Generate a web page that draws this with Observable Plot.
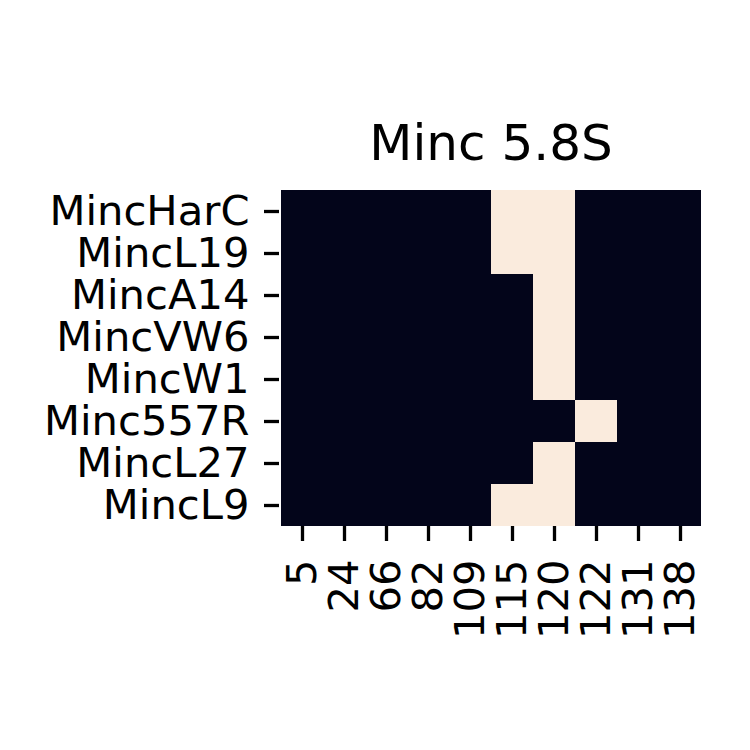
<!DOCTYPE html>
<html>
<head>
<meta charset="utf-8">
<script src="https://cdn.jsdelivr.net/npm/d3@7"></script>
<script src="https://cdn.jsdelivr.net/npm/@observablehq/plot@0.6"></script>
<style>
  html, body { margin: 0; padding: 0; background: #fff; }
</style>
</head>
<body>
<div id="chart"></div>
<script>
const title = "Minc 5.8S";
const rows = ["MincHarC", "MincL19", "MincA14", "MincVW6", "MincW1", "Minc557R", "MincL27", "MincL9"];
const cols = ["5", "24", "66", "82", "109", "115", "120", "122", "131", "138"];
const MincHarC = [0, 0, 0, 0, 0, 1, 1, 0, 0, 0];
const MincL19  = [0, 0, 0, 0, 0, 1, 1, 0, 0, 0];
const MincA14  = [0, 0, 0, 0, 0, 0, 1, 0, 0, 0];
const MincVW6  = [0, 0, 0, 0, 0, 0, 1, 0, 0, 0];
const MincW1   = [0, 0, 0, 0, 0, 0, 1, 0, 0, 0];
const Minc557R = [0, 0, 0, 0, 0, 0, 0, 1, 0, 0];
const MincL27  = [0, 0, 0, 0, 0, 0, 1, 0, 0, 0];
const MincL9   = [0, 0, 0, 0, 0, 1, 1, 0, 0, 0];
const values = [MincHarC, MincL19, MincA14, MincVW6, MincW1, Minc557R, MincL27, MincL9];
const colorRange = ["#03051a", "#faebdd"];

const data = [];
rows.forEach((r, i) => cols.forEach((c, j) => data.push({row: r, col: c, v: values[i][j]})));

const fs = 41.7;
const chart = Plot.plot({
  width: 750,
  height: 750,
  marginLeft: 279,
  marginRight: 48,
  marginTop: 189,
  marginBottom: 224,
  style: {fontFamily: "DejaVu Sans", fontSize: fs + "px", color: "#000", background: "#fff"},
  x: {domain: cols, padding: 0},
  y: {domain: rows, padding: 0},
  color: {type: "ordinal", domain: [0, 1], range: colorRange},
  marks: [
    Plot.cell(data, {x: "col", y: "row", fill: "v", inset: 0}),
    Plot.axisY({tickSize: 15, tickPadding: 15, strokeWidth: 3.3, fontSize: fs, label: null, fill: "#000"}),
    Plot.axisX({tickSize: 15, tickPadding: 18, tickRotate: -90, strokeWidth: 3.3, fontSize: fs, label: null, fill: "#000"}),
    Plot.text([title], {frameAnchor: "top", text: d => d, dy: -30, lineAnchor: "bottom", fontSize: 50, fill: "#000"})
  ]
});
document.getElementById("chart").appendChild(chart);
</script>
</body>
</html>
